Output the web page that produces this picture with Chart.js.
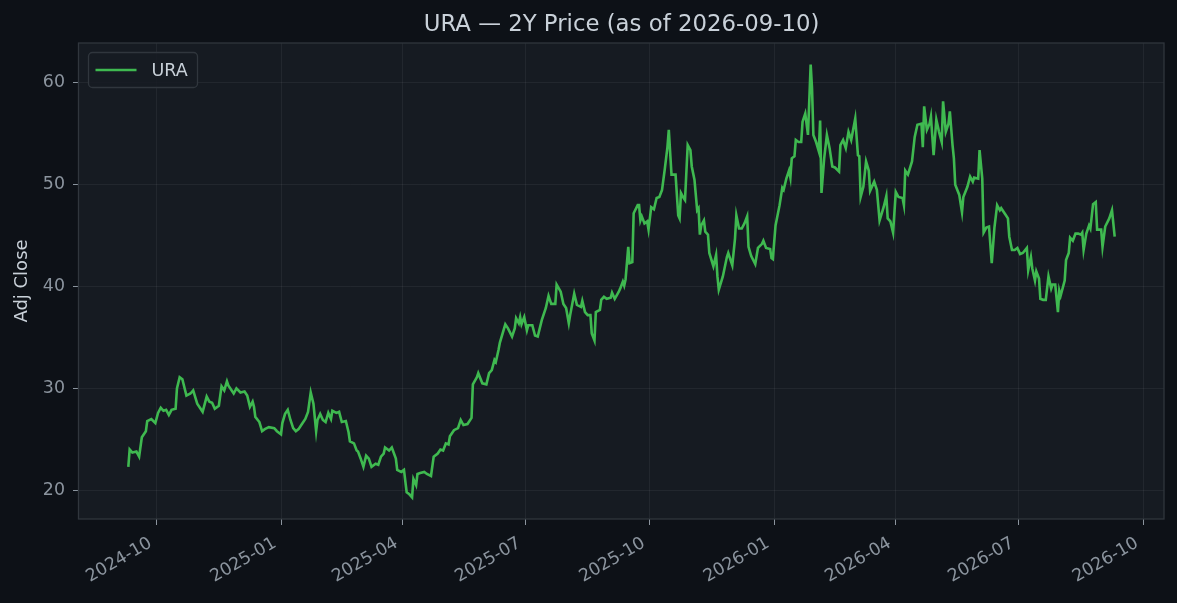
<!DOCTYPE html>
<html>
<head>
<meta charset="utf-8">
<title>URA — 2Y Price</title>
<script src="https://cdn.jsdelivr.net/npm/chart.js"></script>
<style>
  html, body { margin: 0; padding: 0; background: #0d1117; }
  #wrap { width: 1177px; height: 603px; }
</style>
</head>
<body>
<div id="wrap"><canvas id="grafico" width="1177" height="603"></canvas></div>
<script>
// dados (dias desde a data inicial, fechamento ajustado)
const startDate = '2024-09-10';

const dayOffsets = [
  0, 1, 3, 6, 8, 10, 13, 14, 17, 20, 22, 24, 26, 28, 30, 32, 35, 36, 38, 40,
  43, 46, 48, 51, 55, 58, 60, 62, 64, 67, 69, 71, 73, 74, 78, 80, 83, 86, 88, 90,
  92, 93, 94, 97, 99, 101, 104, 108, 110, 113, 114, 116, 118, 120, 122, 124, 126, 128, 131, 133,
  135, 137, 139, 140, 142, 144, 146, 148, 150, 151, 154, 156, 158, 161, 163, 164, 167, 169, 170, 172,
  174, 176, 178, 180, 183, 185, 187, 189, 190, 193, 195, 198, 199, 202, 204, 206, 208, 210, 211, 213,
  214, 216, 219, 221, 224, 226, 229, 231, 233, 235, 237, 238, 241, 244, 246, 248, 251, 254, 255, 258,
  259, 262, 265, 267, 269, 271, 272, 274, 275, 279, 281, 284, 286, 287, 289, 290, 291, 293, 295, 296,
  299, 301, 303, 306, 309, 311, 313, 316, 317, 320, 322, 324, 326, 327, 330, 332, 335, 336, 338, 340,
  342, 343, 345, 346, 349, 350, 352, 354, 357, 358, 360, 363, 364, 366, 367, 368, 370, 371, 373, 374,
  377, 378, 379, 380, 382, 384, 385, 387, 389, 391, 393, 395, 397, 399, 400, 402, 405, 407, 408, 409,
  411, 412, 414, 416, 417, 419, 421, 422, 423, 424, 426, 427, 429, 430, 433, 435, 436, 437, 440, 443,
  444, 447, 449, 450, 452, 454, 456, 458, 459, 461, 464, 466, 469, 470, 472, 475, 476, 477, 479, 482,
  484, 485, 487, 489, 490, 491, 493, 494, 496, 498, 499, 501, 503, 505, 506, 507, 509, 511, 512, 513,
  515, 517, 519, 521, 523, 526, 527, 529, 531, 533, 535, 538, 540, 541, 542, 544, 546, 548, 549, 552,
  554, 556, 559, 561, 562, 564, 566, 568, 570, 573, 574, 575, 577, 580, 582, 584, 587, 588, 589, 591,
  593, 594, 596, 598, 600, 602, 603, 605, 607, 608, 610, 611, 612, 615, 617, 618, 621, 623, 625, 626,
  629, 630, 632, 633, 635, 637, 639, 641, 643, 645, 646, 649, 651, 652, 654, 656, 658, 660, 662, 665,
  666, 668, 669, 671, 672, 674, 675, 677, 679, 681, 683, 684, 686, 688, 689, 690, 693, 694, 696, 697,
  699, 701, 703, 705, 706, 707, 709, 711, 712, 714, 716, 717, 720, 721, 723, 726, 728, 730
];

const closes = [
  22.3, 24.0, 23.7, 23.8, 23.3, 25.2, 25.8, 26.8, 27.0, 26.6, 27.6, 28.1, 27.8, 27.9, 27.4, 27.9, 28.0, 30.0, 31.1, 30.9,
  29.3, 29.5, 29.8, 28.5, 27.7, 29.2, 28.7, 28.6, 28.0, 28.3, 30.2, 29.8, 30.7, 30.3, 29.5, 30.0, 29.6, 29.7, 29.3, 28.2,
  28.7, 28.2, 27.2, 26.7, 25.8, 26.0, 26.2, 26.1, 25.8, 25.5, 26.6, 27.5, 27.9, 26.9, 26.1, 25.8, 26.0, 26.4, 27.0, 27.7,
  29.6, 28.5, 25.8, 26.9, 27.5, 26.9, 26.7, 27.6, 27.0, 27.8, 27.6, 27.7, 26.7, 26.8, 25.7, 24.8, 24.6, 23.9, 23.8, 23.1,
  22.3, 23.4, 23.1, 22.3, 22.6, 22.5, 23.3, 23.6, 24.2, 23.9, 24.2, 23.1, 22.0, 21.8, 22.0, 19.8, 19.6, 19.3, 21.1, 20.5,
  21.6, 21.7, 21.8, 21.6, 21.4, 23.3, 23.6, 24.0, 23.9, 24.6, 24.5, 25.3, 25.9, 26.1, 26.9, 26.4, 26.5, 27.1, 30.4, 31.1,
  31.5, 30.5, 30.4, 31.5, 31.8, 32.8, 32.6, 33.8, 34.5, 36.3, 35.9, 35.1, 35.9, 36.9, 36.4, 37.0, 36.3, 37.0, 35.7, 36.2,
  36.2, 35.2, 35.1, 36.7, 37.9, 39.1, 38.3, 38.3, 40.2, 39.5, 38.3, 37.9, 36.4, 37.2, 39.3, 38.2, 38.0, 38.6, 37.5, 37.2,
  37.2, 35.4, 34.7, 37.5, 37.7, 38.7, 39.0, 38.8, 38.9, 39.4, 38.8, 39.5, 39.8, 40.5, 40.1, 40.7, 43.9, 42.3, 42.4, 47.2,
  48.0, 48.0, 46.5, 46.9, 46.2, 46.4, 45.6, 47.8, 47.6, 48.7, 48.8, 49.5, 51.5, 53.7, 55.4, 51.0, 51.0, 47.0, 46.7, 49.2,
  48.7, 48.5, 53.9, 53.4, 51.8, 50.5, 47.5, 47.7, 45.1, 46.0, 46.5, 45.4, 45.1, 43.3, 42.0, 43.1, 41.0, 39.7, 41.0, 42.9,
  43.3, 42.1, 44.7, 47.0, 45.7, 45.7, 46.2, 46.9, 43.9, 43.0, 42.2, 43.8, 44.2, 44.5, 43.8, 43.7, 42.8, 42.7, 46.0, 48.0,
  49.7, 49.5, 50.6, 51.4, 50.7, 52.6, 52.8, 54.4, 54.2, 54.2, 56.2, 57.0, 54.9, 61.8, 59.5, 54.9, 54.2, 53.3, 56.3, 49.2,
  52.6, 54.9, 53.6, 51.8, 51.7, 51.3, 53.9, 54.4, 53.6, 55.2, 54.4, 56.5, 52.9, 52.8, 48.8, 49.8, 52.3, 51.4, 49.4, 50.3,
  49.5, 46.5, 47.8, 48.9, 46.7, 46.4, 45.3, 49.3, 48.8, 48.7, 48.0, 51.4, 51.0, 52.3, 54.7, 55.9, 56.0, 53.7, 57.7, 55.4,
  56.0, 56.7, 52.9, 56.4, 55.2, 54.2, 58.2, 55.2, 56.0, 57.2, 53.9, 52.6, 50.0, 49.0, 47.3, 48.8, 49.8, 50.8, 50.3, 50.7,
  50.6, 53.4, 50.6, 45.3, 45.8, 45.9, 42.3, 45.8, 48.0, 47.5, 47.7, 47.1, 46.7, 44.9, 43.6, 43.6, 43.8, 43.2, 43.3, 43.8,
  41.6, 42.9, 41.8, 40.6, 41.5, 40.8, 38.8, 38.7, 38.7, 41.0, 39.8, 40.2, 40.2, 37.5, 39.6, 39.1, 40.6, 42.6, 43.3, 44.8,
  44.5, 45.2, 45.2, 45.1, 45.3, 43.6, 45.2, 46.0, 45.7, 48.1, 48.3, 45.6, 45.6, 43.9, 45.9, 46.7, 47.5, 44.9
];

const tickLabels = ['2024-10', '2025-01', '2025-04', '2025-07', '2025-10', '2026-01', '2026-04', '2026-07', '2026-10'];
const yTicks = [20, 30, 40, 50, 60];

const DIA = 86400000;
const fonte = 'DejaVu Sans';
const corTexto = '#c9d1d9';
const corTick = '#8b949e';
const corGrade = 'rgba(255, 255, 255, 0.055)';
const corBorda = '#30363d';

function diasDesdeInicio(rotulo) {
    return (Date.parse(rotulo + '-01T00:00:00Z') - Date.parse(startDate + 'T00:00:00Z')) / DIA;
}

const tickDias = tickLabels.map(diasDesdeInicio);
const pontos = dayOffsets.map((d, i) => ({ x: d, y: closes[i] }));

// margens de 5% como no matplotlib
const xIni = dayOffsets[0];
const xFim = dayOffsets[dayOffsets.length - 1];
const yMinDado = Math.min(...closes);
const yMaxDado = Math.max(...closes);
const xMargem = (xFim - xIni) * 0.05;
const yMargem = (yMaxDado - yMinDado) * 0.05;

const fundoPlot = {
    id: 'fundoPlot',
    beforeDraw(chart) {
        const { ctx, chartArea: a } = chart;
        ctx.save();
        ctx.fillStyle = '#0d1117';
        ctx.fillRect(0, 0, chart.width, chart.height);
        ctx.fillStyle = '#161b22';
        ctx.fillRect(a.left, a.top, a.right - a.left, a.bottom - a.top);
        ctx.restore();
    },
    afterDraw(chart) {
        const { ctx, chartArea: a } = chart;
        ctx.save();
        ctx.strokeStyle = corBorda;
        ctx.lineWidth = 1.3;
        ctx.strokeRect(a.left - 0.5, a.top, a.right - a.left + 0.5, a.bottom - a.top);
        ctx.restore();
    }
};

const legendaCaixa = {
    id: 'legendaCaixa',
    afterDatasetsDraw(chart) {
        const { ctx, chartArea: a } = chart;
        const ds = chart.data.datasets[0];
        const x = a.left + 9.5, y = a.top + 9.5, w = 109, h = 35;
        ctx.save();
        ctx.beginPath();
        ctx.roundRect(x, y, w, h, 4);
        ctx.fillStyle = 'rgba(22, 27, 34, 0.85)';
        ctx.fill();
        ctx.strokeStyle = corBorda;
        ctx.lineWidth = 1.3;
        ctx.stroke();
        ctx.beginPath();
        ctx.moveTo(x + 7, y + h / 2);
        ctx.lineTo(x + 48, y + h / 2);
        ctx.strokeStyle = ds.borderColor;
        ctx.lineWidth = ds.borderWidth;
        ctx.stroke();
        ctx.font = '17.5px "' + fonte + '"';
        ctx.fillStyle = corTexto;
        ctx.textBaseline = 'middle';
        ctx.fillText(ds.label, x + 63, y + h / 2 + 1);
        ctx.restore();
    }
};

const ctx = document.getElementById('grafico').getContext('2d');

const chart = new Chart(ctx, {
    type: 'line',
    data: {
        datasets: [{
            label: 'URA',
            data: pontos,
            borderColor: '#3fb950',
            borderWidth: 2.6,
            pointRadius: 0,
            tension: 0,
            fill: false
        }]
    },
    options: {
        responsive: false,
        animation: false,
        devicePixelRatio: 1,
        layout: { padding: { left: 0, right: 13, top: 0, bottom: 0 } },
        plugins: {
            legend: { display: false },
            tooltip: { enabled: false },
            title: { display: false }
        },
        scales: {
            x: {
                type: 'linear',
                min: xIni - xMargem,
                max: xFim + xMargem,
                afterBuildTicks: s => { s.ticks = tickDias.map(v => ({ value: v })); },
                afterFit: s => { s.height = 84; },
                ticks: {
                    callback: (v, i) => tickLabels[i],
                    color: corTick,
                    font: { family: fonte, size: 17.4 },
                    minRotation: 30,
                    maxRotation: 30,
                    autoSkip: false,
                    padding: 8,
                    labelOffset: -6
                },
                grid: { color: corGrade, tickColor: corTick, tickLength: 6, lineWidth: 1 },
                border: { display: false }
            },
            // eixo de cima só para centralizar o título sobre a área do gráfico
            topo: {
                type: 'linear',
                position: 'top',
                afterFit: s => { s.height = 43; },
                ticks: { display: false },
                grid: { display: false },
                border: { display: false },
                title: {
                    display: true,
                    text: 'URA — 2Y Price (as of 2026-09-10)',
                    color: corTexto,
                    font: { family: fonte, size: 22.8 },
                    padding: { top: 11, bottom: 0 }
                }
            },
            y: {
                min: yMinDado - yMargem,
                max: yMaxDado + yMargem,
                afterBuildTicks: s => { s.ticks = yTicks.map(v => ({ value: v })); },
                afterFit: s => { s.width = 79; },
                ticks: {
                    color: corTick,
                    font: { family: fonte, size: 17.4 },
                    padding: 8
                },
                grid: { color: corGrade, tickColor: corTick, tickLength: 6, lineWidth: 1 },
                border: { display: false },
                title: {
                    display: true,
                    text: 'Adj Close',
                    color: corTexto,
                    font: { family: fonte, size: 18 },
                    padding: { top: 12, bottom: 0 }
                }
            }
        }
    },
    plugins: [fundoPlot, legendaCaixa]
});
</script>
</body>
</html>
